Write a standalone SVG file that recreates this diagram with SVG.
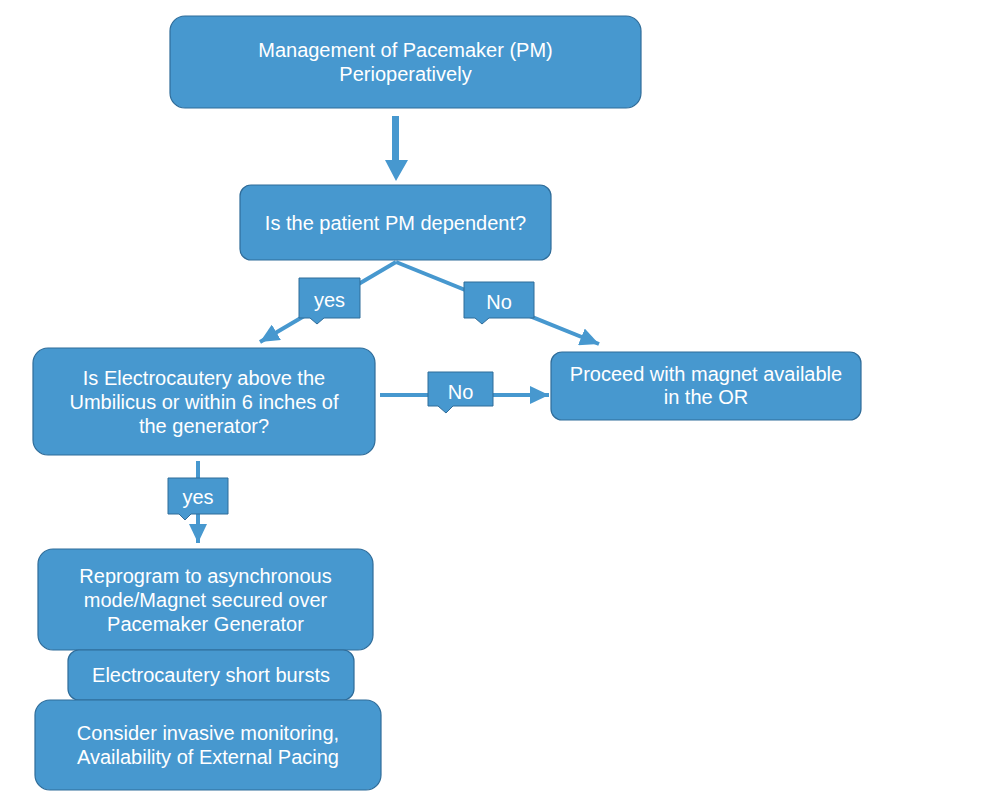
<svg xmlns="http://www.w3.org/2000/svg" width="991" height="792" viewBox="0 0 991 792">
<style>
.box{fill:#4798cf;stroke:#2f6c99;stroke-width:1.2}
.t{font-family:"Liberation Sans",Arial,sans-serif;font-size:20px;fill:#ffffff;text-anchor:middle}
.ln{stroke:#4798cf;stroke-width:4;fill:none}
.co{fill:#4798cf;stroke:#2f6c99;stroke-width:1}
</style>
<defs>
<marker id="ah" markerUnits="userSpaceOnUse" markerWidth="20" markerHeight="18" refX="19" refY="9" orient="auto">
<path d="M0,0 L19,9 L0,18 Z" fill="#4798cf"/>
</marker>
</defs>
<rect width="991" height="792" fill="#ffffff"/>
<g id="connectors">
<path d="M392,116 H399 V160 H408 L396,181 L385,160 H392 Z" fill="#4798cf"/>
<line class="ln" x1="396" y1="262" x2="260" y2="342" marker-end="url(#ah)"/>
<line class="ln" x1="396" y1="262" x2="599" y2="344" marker-end="url(#ah)"/>
<line class="ln" x1="380" y1="395" x2="549" y2="395" marker-end="url(#ah)"/>
<line class="ln" x1="198" y1="461" x2="198" y2="543" marker-end="url(#ah)"/>
<g id="lbl-yes1">
<path class="co" d="M299,278 H360 V318 H324 L317,324 L310,318 H299 Z"/>
<text class="t" x="329.500" y="307">yes</text>
</g>
<g id="lbl-no1">
<path class="co" d="M464,282 H534 V318 H489 L482,324 L475,318 H464 Z"/>
<text class="t" x="499" y="309">No</text>
</g>
<g id="lbl-no2">
<path class="co" d="M428,372 H493 V406 H453 L446,413 L438,406 H428 Z"/>
<text class="t" x="460.500" y="399">No</text>
</g>
<g id="lbl-yes2">
<path class="co" d="M168,478 H228 V514 H191 L185,520 L179,514 H168 Z"/>
<text class="t" x="198" y="504">yes</text>
</g>
</g>
<g id="n1">
<rect class="box" x="170" y="16" width="471" height="92" rx="15"/>
<text class="t" x="405.500" y="57">Management of Pacemaker (PM)</text>
<text class="t" x="405.500" y="81">Perioperatively</text>
</g>
<g id="n2">
<rect class="box" x="240" y="185" width="311" height="75" rx="11"/>
<text class="t" x="395.500" y="230">Is the patient PM dependent?</text>
</g>
<g id="n3">
<rect class="box" x="33" y="348" width="342" height="107" rx="15"/>
<text class="t" x="204" y="385">Is Electrocautery above the</text>
<text class="t" x="204" y="409">Umbilicus or within 6 inches of</text>
<text class="t" x="204" y="433">the generator?</text>
</g>
<g id="n4">
<rect class="box" x="551" y="352" width="310" height="68" rx="11"/>
<text class="t" x="706" y="381">Proceed with magnet available</text>
<text class="t" x="706" y="404">in the OR</text>
</g>
<g id="n5">
<rect class="box" x="38" y="549" width="335" height="101" rx="15"/>
<text class="t" x="205.500" y="583">Reprogram to asynchronous</text>
<text class="t" x="205.500" y="607">mode/Magnet secured over</text>
<text class="t" x="205.500" y="631">Pacemaker Generator</text>
</g>
<g id="n6">
<rect class="box" x="68" y="650" width="286" height="50" rx="11"/>
<text class="t" x="211" y="682">Electrocautery short bursts</text>
</g>
<g id="n7">
<rect class="box" x="35" y="700" width="346" height="90" rx="15"/>
<text class="t" x="208" y="740">Consider invasive monitoring,</text>
<text class="t" x="208" y="764">Availability of External Pacing</text>
</g>
</svg>
